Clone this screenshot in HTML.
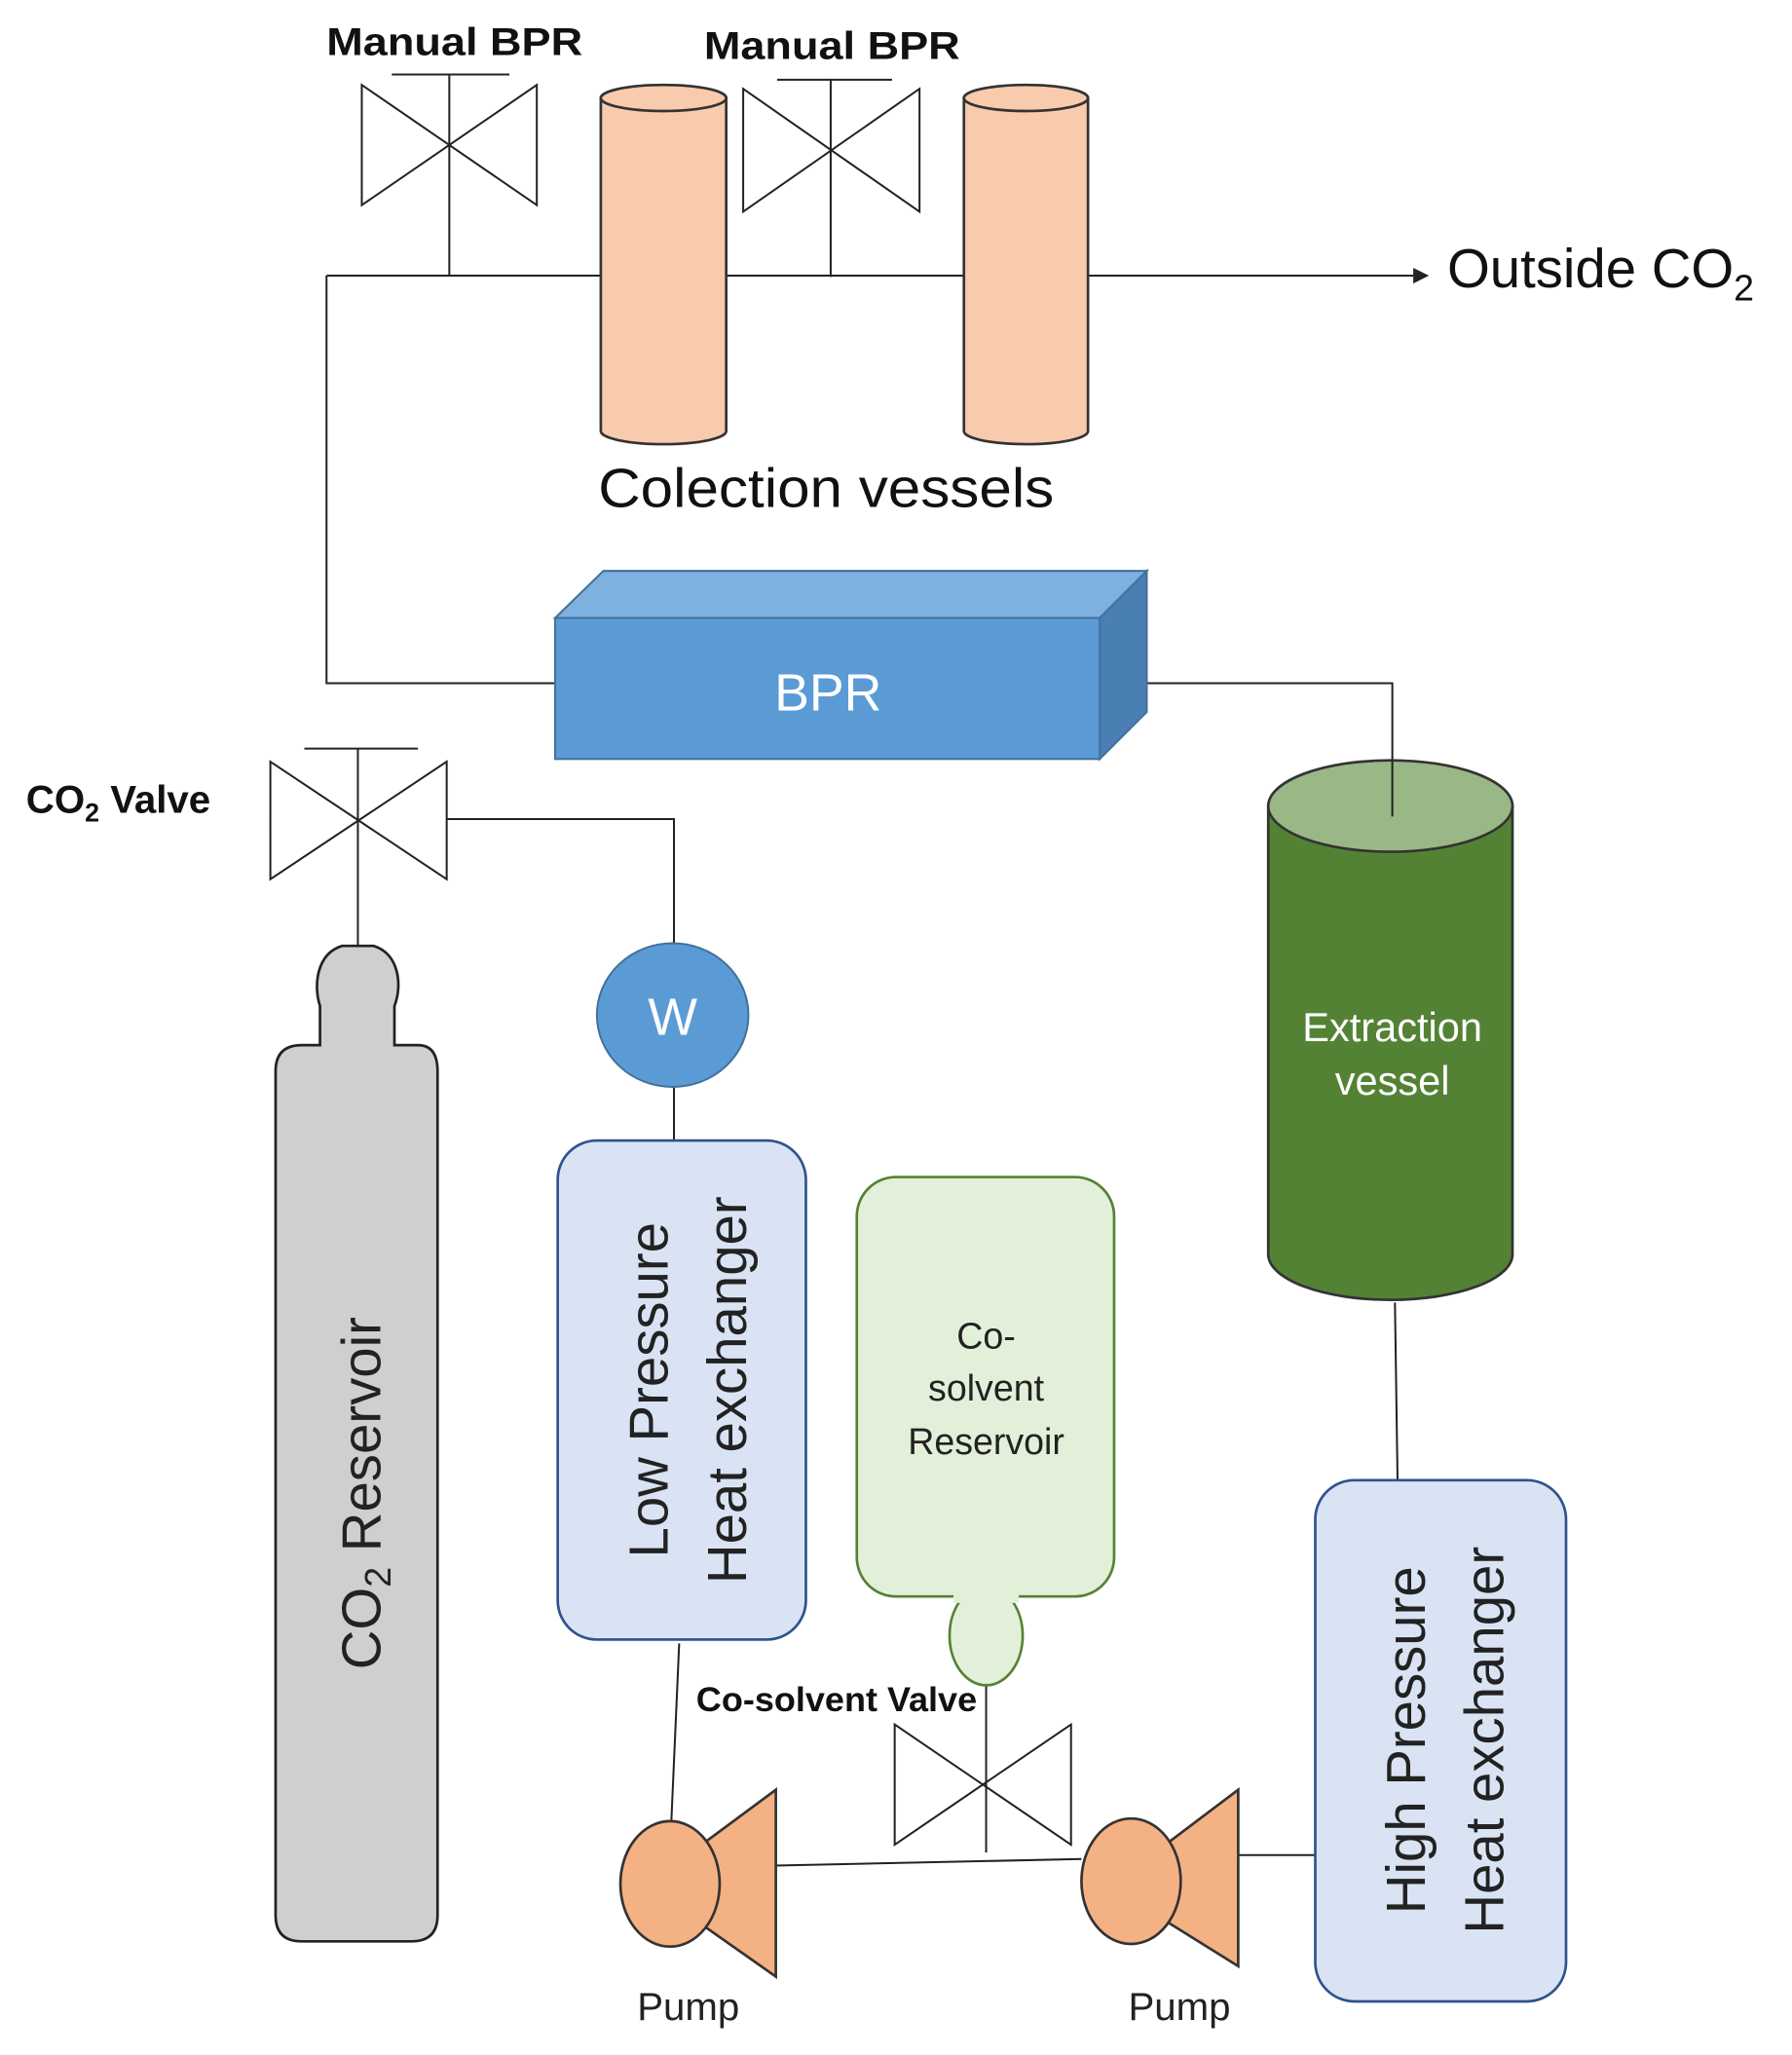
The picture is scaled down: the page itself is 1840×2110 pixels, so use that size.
<!DOCTYPE html>
<html><head><meta charset="utf-8"><style>
html,body{margin:0;padding:0;background:#fff;}
svg{display:block;}
text{font-family:"Liberation Sans",sans-serif;}
</style></head><body>
<svg width="1840" height="2110" viewBox="0 0 1372 1573" preserveAspectRatio="none" xmlns="http://www.w3.org/2000/svg">
<g stroke="#222" stroke-width="1.5" fill="none">
<polyline points="250,211 460,211"/>
<polyline points="556,211 738,211"/>
<polyline points="833,211 1082,211"/>
<polyline points="250,211 250,523 425,523"/>
<polyline points="878,523 1066,523 1066,625"/>
<polyline points="342,627 516,627 516,722"/>
<line x1="516" y1="832" x2="516" y2="873"/>
<line x1="520" y1="1258" x2="514" y2="1394"/>
<line x1="594" y1="1428" x2="828" y2="1423"/>
<line x1="948" y1="1420" x2="1007" y2="1420"/>
<line x1="1068" y1="997" x2="1070" y2="1133"/>
<line x1="755" y1="1290" x2="755" y2="1418"/>
<line x1="344" y1="57" x2="344" y2="211"/><line x1="300" y1="57" x2="390" y2="57"/>
<polygon points="277,65 411,157 411,65 277,157"/>
<line x1="636" y1="61" x2="636" y2="212"/><line x1="595" y1="61" x2="683" y2="61"/>
<polygon points="569,68 704,162 704,68 569,162"/>
<line x1="274" y1="573" x2="274" y2="725"/><line x1="233" y1="573" x2="320" y2="573"/>
<polygon points="207,583 342,673 342,583 207,673"/>
<polygon points="685,1320 820,1412 820,1320 685,1412"/>
</g>
<polygon points="1082,205 1094,211 1082,217" fill="#222"/>
<g stroke="#333" stroke-width="2" fill="#f8cbad">
<path d="M460,75 L460,330 A48,10 0 0 0 556,330 L556,75 Z"/>
<ellipse cx="508" cy="75" rx="48" ry="10"/>
<path d="M738,75 L738,330 A47.5,10 0 0 0 833,330 L833,75 Z"/>
<ellipse cx="785.5" cy="75" rx="47.5" ry="10"/>
</g>
<polygon points="425,473 462,437 878,437 842,473" fill="#7eb0e0" stroke="#41719c" stroke-width="1.5"/>
<polygon points="842,473 878,437 878,545 842,581" fill="#4a7fb3" stroke="#41719c" stroke-width="1.5"/>
<rect x="425" y="473" width="417" height="108" fill="#5b9bd5" stroke="#41719c" stroke-width="1.5"/>
<text x="634" y="544" font-size="40" fill="#fff" text-anchor="middle">BPR</text>
<path d="M971,617 L971,960 A93.5,35 0 0 0 1158,960 L1158,617 Z" fill="#548235" stroke="#333" stroke-width="2"/>
<ellipse cx="1064.5" cy="617" rx="93.5" ry="35" fill="#9ab786" stroke="#333" stroke-width="2"/>
<line x1="1066" y1="582" x2="1066" y2="625" stroke="#222" stroke-width="1.5"/>
<text x="1066" y="797" font-size="31" fill="#fff" text-anchor="middle">Extraction</text>
<text x="1066" y="838" font-size="31" fill="#fff" text-anchor="middle">vessel</text>
<ellipse cx="515" cy="777" rx="58" ry="55" fill="#5b9bd5" stroke="#41719c" stroke-width="1.5"/>
<text x="515" y="792" font-size="40" fill="#fff" text-anchor="middle">W</text>
<path d="M245,800 L245,770 C240,755 242,730 262,724 L286,724 C306,730 308,755 302,770 L302,800 L320,800 Q335,800 335,820 L335,1466 Q335,1486 315,1486 L231,1486 Q211,1486 211,1466 L211,820 Q211,800 231,800 Z" fill="#d0cece" stroke="#222" stroke-width="2"/>
<text transform="translate(291,1143) rotate(-90)" font-size="42" fill="#222" text-anchor="middle">CO<tspan font-size="28" dy="8">2</tspan><tspan dy="-8"> Reservoir</tspan></text>
<rect x="427" y="873" width="190" height="382" rx="30" fill="#dae3f3" stroke="#2f528f" stroke-width="2"/>
<text transform="translate(511,1064) rotate(-90)" font-size="42" fill="#222" text-anchor="middle">Low Pressure</text>
<text transform="translate(571,1064) rotate(-90)" font-size="42" fill="#222" text-anchor="middle">Heat exchanger</text>
<rect x="1007" y="1133" width="192" height="399" rx="30" fill="#dae3f3" stroke="#2f528f" stroke-width="2"/>
<text transform="translate(1091,1332) rotate(-90)" font-size="42" fill="#222" text-anchor="middle">High Pressure</text>
<text transform="translate(1151,1332) rotate(-90)" font-size="42" fill="#222" text-anchor="middle">Heat exchanger</text>
<ellipse cx="755" cy="1252" rx="28" ry="38" fill="#e2f0d9" stroke="#548235" stroke-width="2"/>
<rect x="656" y="901" width="197" height="321" rx="30" fill="#e2f0d9" stroke="#548235" stroke-width="2"/>
<rect x="730" y="1215" width="50" height="12" fill="#e2f0d9"/>
<text x="755" y="1032" font-size="28" fill="#222" text-anchor="middle">Co-</text>
<text x="755" y="1072" font-size="28" fill="#222" text-anchor="middle">solvent</text>
<text x="755" y="1113" font-size="28" fill="#222" text-anchor="middle">Reservoir</text>
<g fill="#f4b183" stroke="#333" stroke-width="2">
<polygon points="540,1410 594,1370 594,1513 540,1475"/>
<ellipse cx="513" cy="1442" rx="38" ry="48"/>
<polygon points="895,1410 948,1370 948,1505 895,1472"/>
<ellipse cx="866" cy="1440" rx="38" ry="48"/>
</g>
<text x="250" y="42" font-size="30" font-weight="bold" fill="#111" textLength="196" lengthAdjust="spacingAndGlyphs">Manual BPR</text>
<text x="539" y="45" font-size="30" font-weight="bold" fill="#111" textLength="196" lengthAdjust="spacingAndGlyphs">Manual BPR</text>
<text x="1108" y="220" font-size="42" fill="#111">Outside CO<tspan font-size="28" dy="10">2</tspan></text>
<text x="458" y="388" font-size="42" fill="#111" textLength="349" lengthAdjust="spacingAndGlyphs">Colection vessels</text>
<text x="20" y="622" font-size="30" font-weight="bold" fill="#111">CO<tspan font-size="20" dy="7">2</tspan><tspan dy="-7"> Valve</tspan></text>
<text x="533" y="1310" font-size="26" font-weight="bold" fill="#111" textLength="215" lengthAdjust="spacingAndGlyphs">Co-solvent Valve</text>
<text x="527" y="1546" font-size="30" fill="#222" text-anchor="middle">Pump</text>
<text x="903" y="1546" font-size="30" fill="#222" text-anchor="middle">Pump</text>
</svg>
</body></html>
